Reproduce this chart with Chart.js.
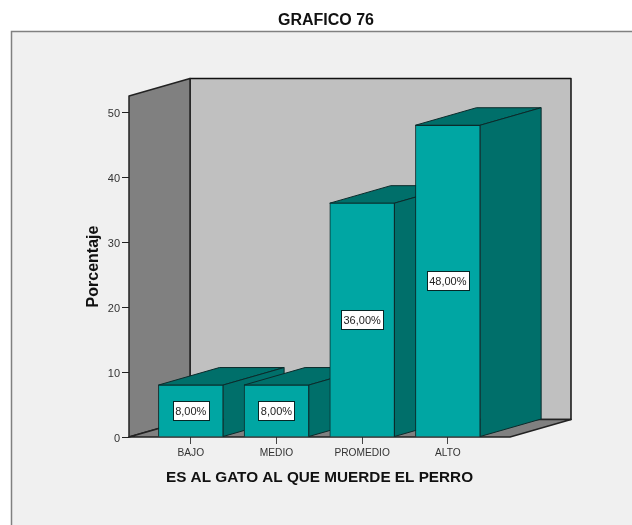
<!DOCTYPE html>
<html>
<head>
<meta charset="utf-8">
<title>GRAFICO 76</title>
<script src="https://cdn.jsdelivr.net/npm/chart.js@4"></script>
<style>
body { margin: 0; background: #fff; }
canvas { display: block; }
</style>
</head>
<body>
<canvas id="myChart" width="632" height="525"></canvas>
<script>
const categories = ["BAJO", "MEDIO", "PROMEDIO", "ALTO"];
const porcentaje = [8, 8, 36, 48];
const valueLabels = ["8,00%", "8,00%", "36,00%", "48,00%"];
const yTicks = [0, 10, 20, 30, 40, 50];

const depthX = 61;
const depthY = 17.5;
const fontName = "'Liberation Sans', Arial, sans-serif";
const lineColor = "#0b2b2b";
const frontColor = "#00a6a3";
const sideColor = "#006f6a";

function poly(ctx, points, fill, stroke, width) {
    ctx.beginPath();
    points.forEach((p, i) => i ? ctx.lineTo(p[0], p[1]) : ctx.moveTo(p[0], p[1]));
    ctx.closePath();
    ctx.fillStyle = fill;
    ctx.fill();
    ctx.strokeStyle = stroke;
    ctx.lineWidth = width || 1;
    ctx.lineJoin = "round";
    ctx.stroke();
}

// panel behind the chart, plus the box walls and the sides of the bars
const box3d = {
    id: "box3d",
    afterLayout(chart) {
        // title is centred over the whole panel, not over the plot
        chart.titleBlock.right = chart.width;
    },
    beforeDraw(chart) {
        const ctx = chart.ctx;
        ctx.save();
        ctx.fillStyle = "#f0f0f0";
        ctx.fillRect(11, 31, chart.width - 11, chart.height - 31);
        ctx.strokeStyle = "#808080";
        ctx.lineWidth = 1.5;
        ctx.beginPath();
        ctx.moveTo(11.5, chart.height);
        ctx.lineTo(11.5, 31.5);
        ctx.lineTo(chart.width, 31.5);
        ctx.stroke();
        ctx.restore();
    },
    beforeDatasetsDraw(chart) {
        const ctx = chart.ctx;
        const a = chart.chartArea;
        const bl = a.left + depthX, br = a.right + depthX;
        const bt = a.top - depthY, bb = a.bottom - depthY;
        ctx.save();
        poly(ctx, [[bl, bt], [br, bt], [br, bb], [bl, bb]], "#c0c0c0", "#111", 1.5);
        poly(ctx, [[a.left, a.top], [bl, bt], [bl, bb], [a.left, a.bottom]], "#808080", "#222", 1.5);
        poly(ctx, [[a.left, a.bottom], [bl, bb], [br, bb], [a.right, a.bottom]], "#808080", "#222", 1.5);
        chart.getDatasetMeta(0).data.forEach(bar => {
            const l = bar.x - bar.width / 2, r = bar.x + bar.width / 2;
            poly(ctx, [[l, bar.y], [l + depthX, bar.y - depthY], [r + depthX, bar.y - depthY], [r, bar.y]], sideColor, lineColor);
            poly(ctx, [[r, bar.y], [r + depthX, bar.y - depthY], [r + depthX, bar.base - depthY], [r, bar.base]], sideColor, lineColor);
        });
        ctx.restore();
    },
    afterDatasetsDraw(chart) {
        const ctx = chart.ctx;
        ctx.save();
        ctx.font = "11px " + fontName;
        ctx.textAlign = "center";
        ctx.textBaseline = "middle";
        chart.getDatasetMeta(0).data.forEach((bar, i) => {
            const w = Math.round(ctx.measureText(valueLabels[i]).width) + 5;
            const cy = Math.round((bar.y + bar.base) / 2);
            const x = Math.round(bar.x - w / 2) + 0.5;
            ctx.fillStyle = "#fff";
            ctx.strokeStyle = "#062626";
            ctx.lineWidth = 1;
            ctx.fillRect(x, cy - 9.5, w, 19);
            ctx.strokeRect(x, cy - 9.5, w, 19);
            ctx.fillStyle = "#222";
            ctx.fillText(valueLabels[i], bar.x, cy + 1);
        });
        ctx.restore();
    }
};

new Chart("myChart", {
    type: "bar",
    data: {
        datasets: [{
            data: porcentaje.map((v, i) => ({ x: i, y: v })),
            backgroundColor: frontColor,
            borderColor: lineColor,
            borderWidth: 1,
            barThickness: 64.7
        }]
    },
    plugins: [box3d],
    options: {
        responsive: false,
        animation: false,
        layout: { padding: { left: 20, right: 122, top: 0, bottom: 0 } },
        plugins: {
            legend: { display: false },
            tooltip: { enabled: false },
            title: {
                display: true,
                text: "GRAFICO 76",
                color: "#111",
                font: { family: fontName, size: 16, weight: "bold" },
                padding: { top: 11, bottom: 65.8 }
            }
        },
        scales: {
            x: {
                type: "linear",
                offset: false,
                min: -0.721,
                max: 3.726,
                afterFit(scale) { scale.height = 88; },
                afterBuildTicks(scale) { scale.ticks = categories.map((c, i) => ({ value: i })); },
                border: { display: false },
                grid: { offset: false, drawOnChartArea: false, drawTicks: true, tickLength: 7, tickColor: "#444" },
                ticks: {
                    autoSkip: false,
                    maxRotation: 0,
                    padding: 3,
                    color: "#333",
                    font: { family: fontName, size: 10.2 },
                    callback: v => categories[v]
                },
                title: {
                    display: true,
                    text: "ES AL GATO AL QUE MUERDE EL PERRO",
                    color: "#111",
                    font: { family: fontName, size: 15.3, weight: "bold" },
                    padding: { top: 10, bottom: 38 }
                }
            },
            y: {
                min: 0,
                max: 52.5,
                afterFit(scale) { scale.width = 109; scale.paddingTop = 0; scale.paddingBottom = 0; },
                afterBuildTicks(scale) { scale.ticks = yTicks.map(v => ({ value: v })); },
                border: { display: false },
                grid: { drawOnChartArea: false, drawTicks: true, tickLength: 7, tickColor: "#222" },
                ticks: {
                    padding: 2,
                    labelOffset: 1.5,
                    color: "#333",
                    font: { family: fontName, size: 11 }
                },
                title: {
                    display: true,
                    text: "Porcentaje",
                    color: "#111",
                    font: { family: fontName, size: 16, weight: "bold" },
                    padding: { top: 63.5, bottom: 0 }
                }
            }
        }
    }
});
</script>
</body>
</html>
